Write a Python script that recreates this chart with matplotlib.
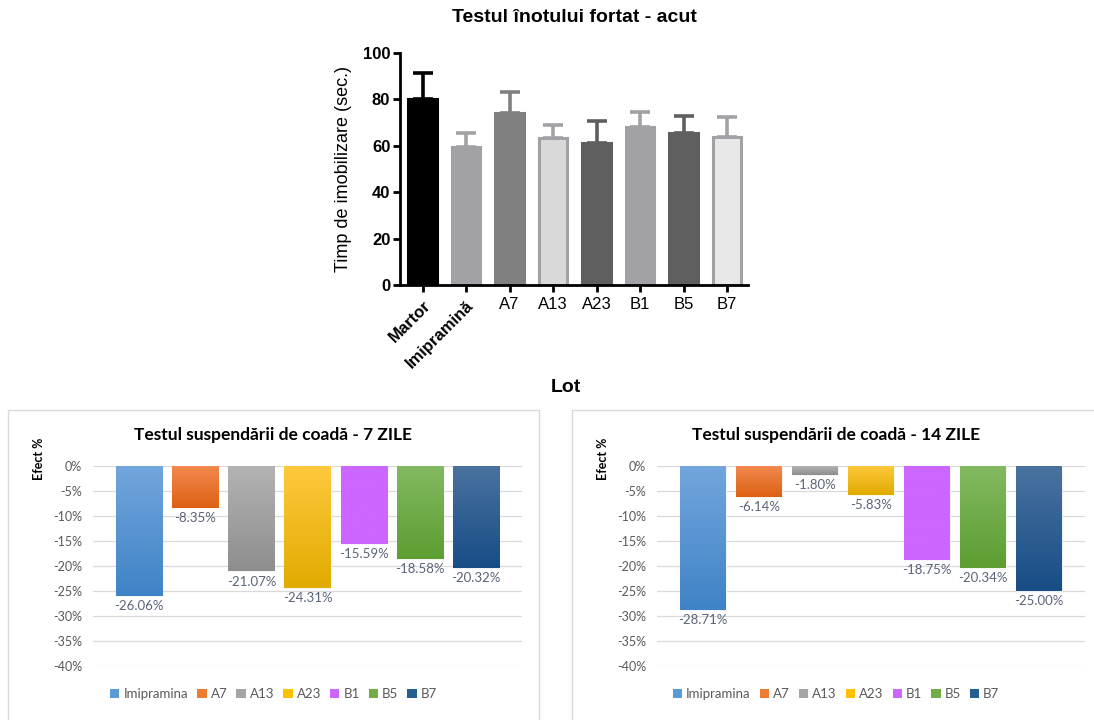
import numpy as np
import matplotlib
matplotlib.use("Agg")
import matplotlib.pyplot as plt
from matplotlib.patches import Rectangle, Patch
from matplotlib.colors import LinearSegmentedColormap

# top chart data (forced swim test, acute)
lot = ["Martor", "Imipramină", "A7", "A13", "A23", "B1", "B5", "B7"]
timp = [80.2, 59.5, 74.0, 63.5, 61.0, 68.0, 65.5, 64.0]
timp_err = [11.0, 6.0, 9.0, 5.5, 9.7, 6.5, 7.3, 8.5]
face_top = ["#000000", "#a2a2a6", "#808080", "#d9d9d9", "#5f5f5f", "#a2a2a6", "#5f5f5f", "#e8e8e8"]
edge_top = ["#000000", "#a2a2a6", "#808080", "#a2a2a6", "#5f5f5f", "#a2a2a6", "#5f5f5f", "#a2a2a6"]

# bottom charts data (tail suspension test)
grupe = ["Imipramina", "A7", "A13", "A23", "B1", "B5", "B7"]
efect_7 = [-26.06, -8.35, -21.07, -24.31, -15.59, -18.58, -20.32]
efect_14 = [-28.71, -6.14, -1.80, -5.83, -18.75, -20.34, -25.00]
grad_top = ["#72a6dc", "#f2894e", "#b3b3b3", "#ffc83d", "#cc66ff", "#83b960", "#4a72a0"]
grad_bot = ["#3f83c7", "#dd6012", "#8e8e8e", "#e0ac00", "#cc66ff", "#5c9e32", "#174d86"]
leg_col = ["#5b9bd5", "#ed7d31", "#a5a5a5", "#ffc000", "#cc66ff", "#70ad47", "#255e91"]

W, H = 1094, 720
plt.rcParams["font.family"] = ["Liberation Sans", "DejaVu Sans"]
fig = plt.figure(figsize=(W / 100, H / 100), dpi=100)

def fx(px):
    return px / W

def fy(py):
    return 1 - py / H

# ---- top: GraphPad-style bar chart ----
ax = fig.add_axes([fx(400), fy(285), fx(348), (285 - 53) / H])
x = np.arange(len(lot))
ax.bar(x, timp, width=0.66, color=face_top, edgecolor=edge_top, linewidth=2.2, zorder=2)
for i in range(len(lot)):
    ax.errorbar(x[i], timp[i], yerr=[[0], [timp_err[i]]], color=edge_top[i],
                capsize=7, elinewidth=2.6, capthick=2.6, zorder=1)
ax.set_xlim(-0.52, 7.48)
ax.set_ylim(0, 100)
ax.set_yticks(np.arange(0, 101, 20))
for s in ["top", "right"]:
    ax.spines[s].set_visible(False)
for s in ["left", "bottom"]:
    ax.spines[s].set_linewidth(2)
ax.tick_params(axis="both", direction="out", width=2, length=5, labelsize=12, pad=2)
ax.tick_params(axis="x", pad=4)
for t in ax.get_yticklabels():
    t.set_fontweight("bold")
ax.set_xticks(x)
ax.set_xticklabels(lot)
for i, t in enumerate(ax.get_xticklabels()):
    if i < 2:
        t.set_rotation(45)
        t.set_ha("right")
        t.set_rotation_mode("anchor")
        t.set_fontweight("bold")
ax.set_ylabel("Timp de imobilizare (sec.)", fontsize=13, labelpad=8)
fig.text(fx(574), fy(17), "Testul înotului fortat - acut", ha="center", va="center",
         fontsize=14, fontweight="bold")
fig.text(fx(566), fy(387), "Lot", ha="center", va="center", fontsize=14, fontweight="bold")

# ---- bottom: Excel-style panels ----
plt.rcParams["font.family"] = ["Lato", "DejaVu Sans"]

def panel(box_left, box_right, ax_left, ax_right, values, title):
    fig.patches.append(Rectangle((fx(box_left), fy(722)), fx(box_right - box_left), (722 - 410) / H,
                                 transform=fig.transFigure, fill=False, edgecolor="#d9d9d9", lw=1))
    a = fig.add_axes([fx(ax_left), fy(666), fx(ax_right - ax_left), 200 / H])
    a.set_yticks(np.arange(-40, 1, 5))
    a.set_yticklabels([f"{v}%" for v in range(-40, 1, 5)])
    a.yaxis.grid(True, color="#d9d9d9", lw=0.9)
    a.set_axisbelow(True)
    for s in a.spines.values():
        s.set_visible(False)
    a.tick_params(axis="y", length=0, labelsize=9, labelcolor="#595959", pad=8)
    a.set_xticks([])
    bw = 0.82
    for i, v in enumerate(values):
        cmap = LinearSegmentedColormap.from_list("g", [grad_top[i], grad_bot[i]])
        bars = a.bar(i, v, width=bw, color=leg_col[i], edgecolor="white", lw=0.6, zorder=2)
        im = a.imshow(np.linspace(0, 1, 100).reshape(-1, 1), cmap=cmap, aspect="auto",
                      extent=[i - bw / 2, i + bw / 2, v, 0], origin="upper", zorder=2.5)
        im.set_clip_path(bars[0])
        a.annotate(f"{v:.2f}%", (i, v), xytext=(0, -3), textcoords="offset points",
                   ha="center", va="top", fontsize=9.5, color="#5a6478")
    a.set_xlim(-0.82, 6.82)
    a.set_ylim(-40, 0)
    cx = (box_left + box_right) / 2
    fig.text(fx(cx), fy(435), title, ha="center", va="center", fontsize=12.5, fontweight="bold")
    fig.text(fx(box_left + 31), fy(459), "Efect %", ha="center", va="center", rotation=90,
             fontsize=9, fontweight="bold")
    handles = [Patch(facecolor=c, edgecolor="none") for c in leg_col]
    fig.legend(handles, grupe, loc="center", bbox_to_anchor=(fx(cx), fy(694)), ncol=7,
               frameon=False, fontsize=9.5, handlelength=0.7, handleheight=0.7,
               handletextpad=0.3, columnspacing=0.7, labelcolor="#595959")

panel(8, 539, 93, 522, efect_7, "Testul suspendării de coadă - 7 ZILE")
panel(572, 1100, 657, 1085, efect_14, "Testul suspendării de coadă - 14 ZILE")

fig.savefig("out.png", dpi=100)
